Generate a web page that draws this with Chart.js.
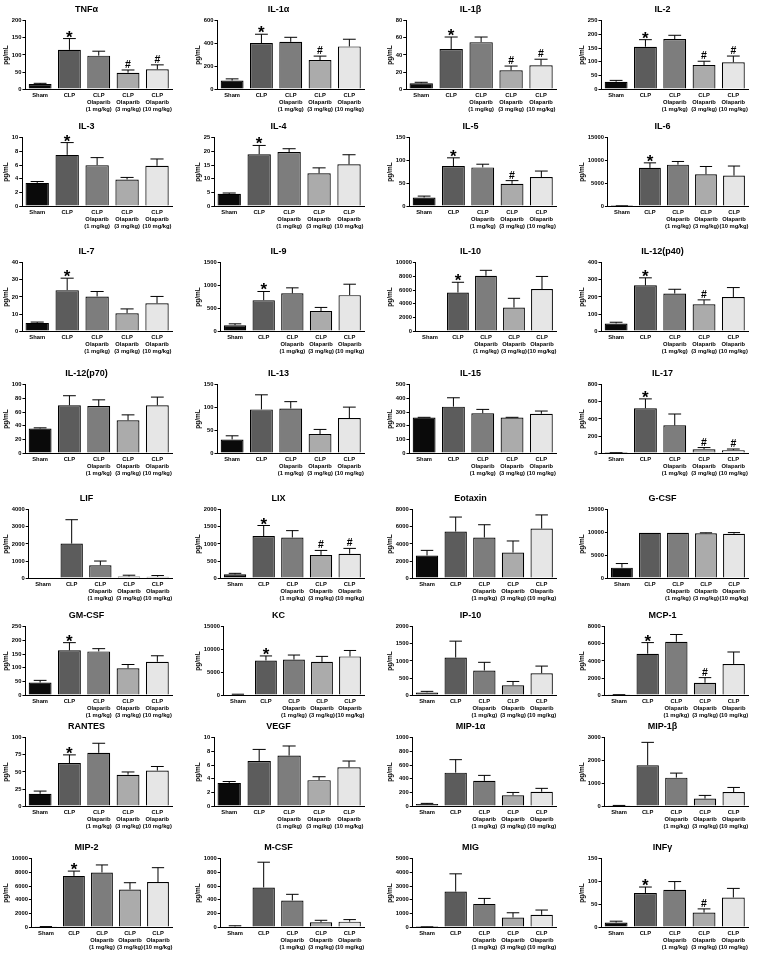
<!DOCTYPE html>
<html>
<head>
<meta charset="utf-8">
<script src="https://cdn.jsdelivr.net/npm/chart.js@4.4.1/dist/chart.umd.min.js"></script>
<style>
  body { margin: 0; background: #fff; }
  #wrap { position: relative; width: 767px; height: 960px; overflow: hidden; }
  #wrap canvas { position: absolute; }
</style>
</head>
<body>
<div id="wrap"></div>
<script>
// groups on every x axis
const groups = [['Sham'], ['CLP'], ['CLP', 'Olaparib', '(1 mg/kg)'], ['CLP', 'Olaparib', '(3 mg/kg)'], ['CLP', 'Olaparib', '(10 mg/kg)']];

const titles = ['TNFα', 'IL-1α', 'IL-1β', 'IL-2',
  'IL-3', 'IL-4', 'IL-5', 'IL-6',
  'IL-7', 'IL-9', 'IL-10', 'IL-12(p40)',
  'IL-12(p70)', 'IL-13', 'IL-15', 'IL-17',
  'LIF', 'LIX', 'Eotaxin', 'G-CSF',
  'GM-CSF', 'KC', 'IP-10', 'MCP-1',
  'RANTES', 'VEGF', 'MIP-1α', 'MIP-1β',
  'MIP-2', 'M-CSF', 'MIG', 'INFγ'];

// y axis max / tick step per panel
const yMax = [200, 600, 80, 250, 10, 25, 150, 15000, 40, 1500, 10000, 400, 100, 150, 500, 800,
  4000, 2000, 8000, 15000, 250, 15000, 2000, 8000, 100, 10, 1000, 3000, 10000, 1000, 5000, 150];
const yStep = [50, 200, 20, 50, 2, 5, 50, 5000, 10, 500, 2000, 100, 20, 50, 100, 200,
  1000, 500, 2000, 5000, 50, 5000, 500, 2000, 25, 2, 200, 1000, 2000, 200, 1000, 50];

// mean values (pg/mL)
const means = [
  [15, 115, 98, 48, 58], [75, 405, 415, 255, 375], [7, 47, 55, 22, 28], [27, 155, 183, 88, 98],
  [3.4, 7.5, 6.0, 3.9, 5.9], [4.5, 19, 19.8, 12, 15.3], [19, 88, 85, 49, 64], [30, 8400, 9100, 7000, 6700],
  [4.8, 24, 20.3, 10.5, 16.3], [130, 680, 830, 440, 790], [0, 5650, 8100, 3450, 6150], [45, 268, 220, 157, 200],
  [36, 70, 69, 48, 70], [30, 96, 98, 42, 77], [260, 340, 292, 260, 288], [2, 525, 325, 45, 35],
  [0, 2020, 750, 100, 80], [110, 1230, 1190, 680, 715], [2650, 5450, 4750, 3000, 5800], [2300, 9950, 9950, 9850, 9750],
  [46, 164, 160, 98, 122], [150, 7600, 7800, 7300, 8500], [80, 1100, 720, 290, 640], [30, 4850, 6250, 1450, 3650],
  [18, 63, 78, 46, 52], [3.4, 6.6, 7.4, 3.8, 5.7], [30, 490, 370, 160, 210], [20, 1800, 1250, 330, 620],
  [50, 7500, 8000, 5500, 6600], [10, 580, 390, 70, 80], [10, 2600, 1700, 700, 900], [10, 75, 82, 32, 65]
];

// top of the error bars (mean + SEM)
const upper = [
  [17, 148, 111, 56, 71], [90, 482, 455, 290, 438], [8, 61, 61, 27, 35], [32, 181, 197, 102, 121],
  [3.6, 9.3, 7.1, 4.2, 6.9], [4.8, 22.2, 21, 14, 18.8], [22, 106, 92, 56, 77], [60, 9500, 9800, 8700, 8800],
  [5.3, 31, 23.2, 13, 20.3], [160, 870, 950, 520, 1030], [0, 7150, 8900, 4800, 8000], [52, 312, 245, 183, 255],
  [37, 84, 78, 56, 82], [38, 128, 113, 52, 101], [262, 405, 320, 262, 308], [4, 635, 458, 65, 48],
  [0, 3420, 1000, 170, 150], [140, 1540, 1390, 810, 870], [3250, 7150, 6250, 4350, 7400], [3200, 9950, 9950, 9950, 10000],
  [54, 192, 170, 112, 144], [200, 8600, 8800, 8500, 9800], [110, 1580, 960, 400, 850], [50, 6150, 7100, 2050, 5050],
  [22, 75, 92, 50, 58], [3.6, 8.3, 8.8, 4.3, 6.6], [40, 680, 450, 200, 260], [30, 2800, 1450, 470, 820],
  [80, 8200, 9100, 6500, 8700], [20, 950, 480, 100, 110], [20, 3900, 2100, 1050, 1250], [13, 88, 100, 40, 85]
];

// significance marks
const marks = [
  ['', '*', '', '#', '#'], ['', '*', '', '#', ''], ['', '*', '', '#', '#'], ['', '*', '', '#', '#'],
  ['', '*', '', '', ''], ['', '*', '', '', ''], ['', '*', '', '#', ''], ['', '*', '', '', ''],
  ['', '*', '', '', ''], ['', '*', '', '', ''], ['', '*', '', '', ''], ['', '*', '', '#', ''],
  ['', '', '', '', ''], ['', '', '', '', ''], ['', '', '', '', ''], ['', '*', '', '#', '#'],
  ['', '', '', '', ''], ['', '*', '', '#', '#'], ['', '', '', '', ''], ['', '', '', '', ''],
  ['', '*', '', '', ''], ['', '*', '', '', ''], ['', '', '', '', ''], ['', '*', '', '#', ''],
  ['', '*', '', '', ''], ['', '', '', '', ''], ['', '', '', '', ''], ['', '', '', '', ''],
  ['', '*', '', '', ''], ['', '', '', '', ''], ['', '', '', '', ''], ['', '*', '', '#', '']
];

const barColors = ['#0a0a0a', '#5c5c5c', '#7d7d7d', '#ababab', '#e6e6e6'];
const rowTops = [0, 117, 242, 364, 489, 606, 717, 838];
const FONT = '"Liberation Sans", Arial, sans-serif';

Chart.defaults.font.family = FONT;
Chart.defaults.color = '#000';

const errorBars = {
  id: 'errorBars',
  afterDatasetsDraw(chart) {
    const k = chart.options.plugins.errorBars.panel;
    const ctx = chart.ctx;
    const ys = chart.scales.y;
    const meta = chart.getDatasetMeta(0);
    ctx.save();
    ctx.strokeStyle = '#000';
    ctx.fillStyle = '#000';
    ctx.lineWidth = 1;
    meta.data.forEach((bar, i) => {
      const yu = ys.getPixelForValue(upper[k][i]);
      if (upper[k][i] > means[k][i]) {
        const half = bar.width * 0.28;
        ctx.beginPath();
        ctx.moveTo(bar.x, bar.y);
        ctx.lineTo(bar.x, yu);
        ctx.moveTo(bar.x - half, yu);
        ctx.lineTo(bar.x + half, yu);
        ctx.stroke();
      }
      const m = marks[k][i];
      ctx.textAlign = 'center';
      ctx.textBaseline = 'alphabetic';
      if (m === '*') {
        ctx.font = 'bold 17px ' + FONT;
        ctx.fillText('*', bar.x, yu + 4);
      } else if (m === '#') {
        ctx.font = 'bold 10.5px ' + FONT;
        ctx.fillText('#', bar.x, yu - 2);
      }
    });
    ctx.restore();
  }
};

const wrap = document.getElementById('wrap');
titles.forEach((t, k) => {
  const col = k % 4, row = Math.floor(k / 4);
  const cv = document.createElement('canvas');
  cv.width = 190;
  cv.height = 120;
  cv.style.left = (col * 192) + 'px';
  cv.style.top = rowTops[row] + 'px';
  wrap.appendChild(cv);

  new Chart(cv, {
    type: 'bar',
    data: {
      labels: groups,
      datasets: [{
        data: means[k],
        backgroundColor: barColors,
        borderColor: '#000',
        borderWidth: 1.2,
        barPercentage: 0.78,
        categoryPercentage: 1
      }]
    },
    options: {
      responsive: false,
      animation: false,
      devicePixelRatio: 1,
      layout: { padding: { left: 1, right: 18, top: 0, bottom: 4 } },
      plugins: {
        legend: { display: false },
        tooltip: { enabled: false },
        title: {
          display: true, text: t, color: '#000',
          font: { size: 9, weight: 'bold' },
          padding: { top: 4, bottom: 6 }
        },
        errorBars: { panel: k }
      },
      scales: {
        x: {
          grid: { display: false, drawTicks: false },
          border: { display: true, color: '#000', width: 1 },
          ticks: {
            font: { size: 5.8, weight: 'bold' }, color: '#000',
            maxRotation: 0, minRotation: 0, autoSkip: false, padding: 3
          }
        },
        y: {
          min: 0, max: yMax[k],
          grid: { display: true, drawOnChartArea: false, drawTicks: true, tickLength: 3, color: '#000' },
          border: { display: true, color: '#000', width: 1 },
          ticks: {
            stepSize: yStep[k], font: { size: 5.8, weight: 'bold' }, color: '#000', padding: 1,
            callback: v => String(v)
          },
          title: { display: true, text: 'pg/mL', font: { size: 6.5, weight: 'bold' }, color: '#000', padding: 1 }
        }
      }
    },
    plugins: [errorBars]
  });
});
</script>
</body>
</html>
